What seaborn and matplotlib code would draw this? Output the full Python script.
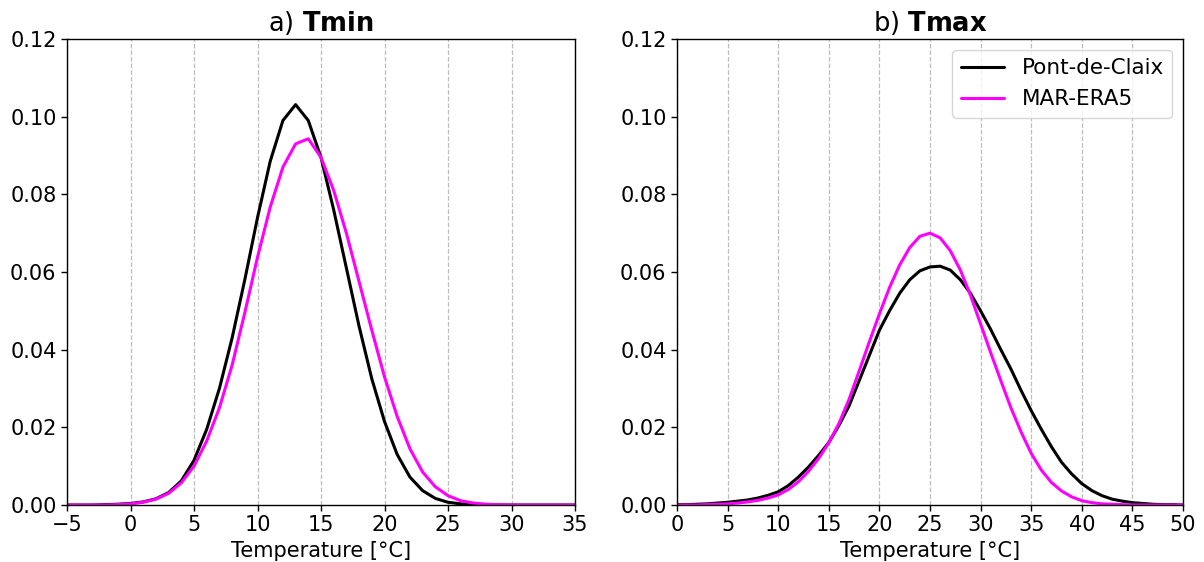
import numpy as np
import pandas as pd
import matplotlib
matplotlib.use("Agg")
import matplotlib.pyplot as plt
import seaborn as sns

# ---- data ----
tmin_x = list(range(-5, 36))
tmin_station = [0.0000, 0.0000, 0.0000, 0.0001, 0.0002, 0.0004, 0.0008, 0.0016, 0.0032, 0.0062,
                0.0115, 0.0195, 0.0300, 0.0430, 0.0580, 0.0740, 0.0885, 0.0990, 0.1031, 0.0990,
                0.0895, 0.0760, 0.0610, 0.0460, 0.0325, 0.0215, 0.0130, 0.0072, 0.0037, 0.0017,
                0.0007, 0.0003, 0.0001, 0.0000, 0.0000, 0.0000, 0.0000, 0.0000, 0.0000, 0.0000,
                0.0000]
tmin_model = [0.0000, 0.0000, 0.0000, 0.0000, 0.0001, 0.0003, 0.0007, 0.0015, 0.0030, 0.0057,
              0.0100, 0.0165, 0.0250, 0.0360, 0.0495, 0.0638, 0.0767, 0.0870, 0.0930, 0.0943,
              0.0895, 0.0810, 0.0700, 0.0575, 0.0450, 0.0330, 0.0228, 0.0145, 0.0085, 0.0047,
              0.0024, 0.0011, 0.0005, 0.0002, 0.0001, 0.0000, 0.0000, 0.0000, 0.0000, 0.0000,
              0.0000]

tmax_x = list(range(0, 51))
tmax_station = [0.0001, 0.0001, 0.0002, 0.0003, 0.0005, 0.0007, 0.0010, 0.0013, 0.0018, 0.0025,
                0.0034, 0.0050, 0.0072, 0.0098, 0.0128, 0.0161, 0.0205, 0.0255, 0.0320, 0.0385,
                0.0450, 0.0500, 0.0545, 0.0580, 0.0603, 0.0613, 0.0615, 0.0605, 0.0580, 0.0545,
                0.0500, 0.0452, 0.0400, 0.0350, 0.0295, 0.0243, 0.0195, 0.0150, 0.0110, 0.0080,
                0.0055, 0.0037, 0.0024, 0.0015, 0.0010, 0.0006, 0.0004, 0.0002, 0.0001, 0.0001,
                0.0000]
tmax_model = [0.0000, 0.0000, 0.0000, 0.0001, 0.0002, 0.0003, 0.0005, 0.0008, 0.0012, 0.0018,
              0.0026, 0.0040, 0.0060, 0.0087, 0.0120, 0.0160, 0.0210, 0.0272, 0.0345, 0.0420,
              0.0492, 0.0560, 0.0618, 0.0663, 0.0692, 0.0700, 0.0688, 0.0655, 0.0605, 0.0540,
              0.0466, 0.0392, 0.0320, 0.0250, 0.0188, 0.0133, 0.0090, 0.0058, 0.0036, 0.0021,
              0.0011, 0.0006, 0.0003, 0.0002, 0.0001, 0.0000, 0.0000, 0.0000, 0.0000, 0.0000,
              0.0000]

series_names = ["Pont-de-Claix", "MAR-ERA5"]
series_colors = ["black", "#ff00ff"]
panel_titles = [r"a) $\bf{Tmin}$", r"b) $\bf{Tmax}$"]
xlabel = "Temperature [°C]"
yticks = [0.00, 0.02, 0.04, 0.06, 0.08, 0.10, 0.12]

def make_df(x, a, b):
    return pd.concat([
        pd.DataFrame({"T": x, "pdf": a, "src": series_names[0]}),
        pd.DataFrame({"T": x, "pdf": b, "src": series_names[1]}),
    ], ignore_index=True)

df_min = make_df(tmin_x, tmin_station, tmin_model)
df_max = make_df(tmax_x, tmax_station, tmax_model)

sns.set_style("white")
plt.rcParams['font.family'] = ['DejaVu Sans']
plt.rcParams['text.color'] = 'black'
plt.rcParams['axes.labelcolor'] = 'black'
plt.rcParams['xtick.color'] = 'black'
plt.rcParams['ytick.color'] = 'black'

fig = plt.figure(figsize=(12.04, 5.62), dpi=100)
ax1 = fig.add_axes([67/1204, 1-505/562, 508/1204, 466/562])
ax2 = fig.add_axes([677/1204, 1-505/562, 506/1204, 466/562])

palette = dict(zip(series_names, series_colors))
sns.lineplot(data=df_min, x="T", y="pdf", hue="src", palette=palette, lw=2.2, ax=ax1, legend=False)
sns.lineplot(data=df_max, x="T", y="pdf", hue="src", palette=palette, lw=2.2, ax=ax2)

for ax, title, xlim, xt in [(ax1, panel_titles[0], (-5, 35), np.arange(-5, 36, 5)),
                            (ax2, panel_titles[1], (0, 50), np.arange(0, 51, 5))]:
    ax.set_xlim(*xlim)
    ax.set_ylim(0, 0.12)
    ax.set_xticks(xt)
    ax.set_yticks(yticks)
    ax.set_yticklabels([f"{v:.2f}" for v in yticks])
    ax.tick_params(axis="both", labelsize=15, direction="out", length=4, width=1, colors="black",
                   bottom=True, left=True)
    ax.set_title(title, fontsize=18.5, color="black")
    ax.set_xlabel(xlabel, fontsize=15, labelpad=4, color="black")
    ax.set_ylabel("")
    ax.xaxis.grid(True, linestyle="--", color="#bdbdbd", linewidth=0.9)
    ax.yaxis.grid(False)
    for s in ax.spines.values():
        s.set_color("black")
        s.set_linewidth(1)

leg = ax2.legend(loc="upper right", fontsize=15.5, frameon=True, handlelength=2, title=None)
leg.get_frame().set_edgecolor("#cccccc")
for t in leg.get_texts():
    t.set_color("black")

fig.savefig("out.png", dpi=100)
